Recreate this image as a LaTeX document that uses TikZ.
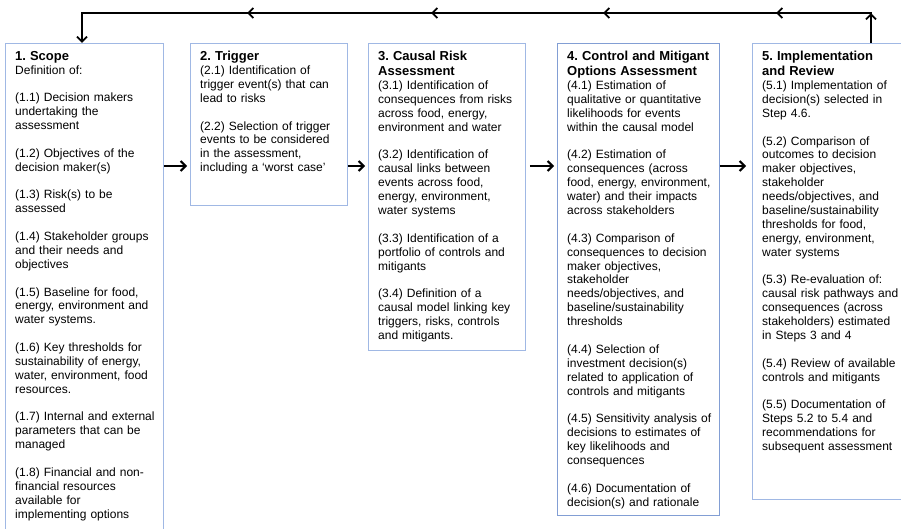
\documentclass[tikz,border=0pt]{standalone}
\usepackage{fontspec}
\setmainfont{Liberation Sans}
\usetikzlibrary{arrows.meta,decorations.markings}
\setlength{\parindent}{0pt}
\frenchspacing

\definecolor{frameblue}{RGB}{160,184,228}
\definecolor{framedeep}{RGB}{130,158,212}

\newcommand{\steptitle}[1]{{\fontsize{13}{15}\selectfont\bfseries #1\par}}
\newcommand{\itemgap}{\\[13.8pt]}

\tikzset{flowtip/.tip={Straight Barb[length=5pt,width=10pt]}}

\begin{document}
\begin{tikzpicture}[x=1pt, y=-1pt,
    frame/.style={draw=frameblue, line width=0.9pt, inner sep=0pt, anchor=north west},
    steptext/.style={anchor=north west, inner xsep=10pt, inner ysep=8pt, align=left,
        font=\fontsize{12}{13.9}\selectfont},
    flow/.style={line width=2pt, -flowtip, shorten >=3pt},
    feedback/.style={line width=1.8pt}]
    \useasboundingbox (0,0) rectangle (901,529);

    % the frames of the five steps
    \node[frame, minimum width=158pt, minimum height=500pt] (scope) at (5,43) {};
    \node[frame, minimum width=157pt, minimum height=162pt] (trigger) at (190,43) {};
    \node[frame, minimum width=157pt, minimum height=307pt] (causal) at (368,43) {};
    \node[frame, draw=framedeep, minimum width=162pt, minimum height=472pt] (control) at (557,43) {};
    \node[frame, minimum width=160pt, minimum height=456pt] (review) at (752,43) {};

    % Step 1 -> Scope
    \node[steptext, text width=146pt] (scopetext) at (scope.north west) {%
        \steptitle{1. Scope}
        Definition of:\itemgap
        (1.1) Decision makers\\ undertaking the\\ assessment\itemgap
        (1.2) Objectives of the\\ decision maker(s)\itemgap
        (1.3) Risk(s) to be\\ assessed\itemgap
        (1.4) Stakeholder groups\\ and their needs and\\ objectives\itemgap
        (1.5) Baseline for food,\\ energy, environment and\\ water systems.\itemgap
        (1.6) Key thresholds for\\ sustainability of energy,\\ water, environment, food\\ resources.\itemgap
        (1.7) Internal and external\\ parameters that can be\\ managed\itemgap
        (1.8) Financial and non-\\ financial resources\\ available for\\ implementing options};

    % Step 2 -> Trigger
    \node[steptext, text width=145pt] (triggertext) at (trigger.north west) {%
        \steptitle{2. Trigger}
        (2.1) Identification of\\ trigger event(s) that can\\ lead to risks\itemgap
        (2.2) Selection of trigger\\ events to be considered\\ in the assessment,\\ including a ‘worst case’};

    % Step 3 -> Causal risk assessment
    \node[steptext, text width=145pt] (causaltext) at (causal.north west) {%
        \steptitle{3. Causal Risk\\ Assessment}
        (3.1) Identification of\\ consequences from risks\\ across food, energy,\\ environment and water\itemgap
        (3.2) Identification of\\ causal links between\\ events across food,\\ energy, environment,\\ water systems\itemgap
        (3.3) Identification of a\\ portfolio of controls and\\ mitigants\itemgap
        (3.4) Definition of a\\ causal model linking key\\ triggers, risks, controls\\ and mitigants.};

    % Step 4 -> Control and mitigant options
    \node[steptext, text width=152pt] (controltext) at (control.north west) {%
        \steptitle{4. Control and Mitigant\\ Options Assessment}
        (4.1) Estimation of\\ qualitative or quantitative\\ likelihoods for events\\ within the causal model\itemgap
        (4.2) Estimation of\\ consequences (across\\ food, energy, environment,\\ water) and their impacts\\ across stakeholders\itemgap
        (4.3) Comparison of\\ consequences to decision\\ maker objectives,\\ stakeholder\\ needs/objectives, and\\ baseline/sustainability\\ thresholds\itemgap
        (4.4) Selection of\\ investment decision(s)\\ related to application of\\ controls and mitigants\itemgap
        (4.5) Sensitivity analysis of\\ decisions to estimates of\\ key likelihoods and\\ consequences\itemgap
        (4.6) Documentation of\\ decision(s) and rationale};

    % Step 5 -> Implementation and review
    \node[steptext, text width=150pt] (reviewtext) at (review.north west) {%
        \steptitle{5. Implementation\\ and Review}
        (5.1) Implementation of\\ decision(s) selected in\\ Step 4.6.\itemgap
        (5.2) Comparison of\\ outcomes to decision\\ maker objectives,\\ stakeholder\\ needs/objectives, and\\ baseline/sustainability\\ thresholds for food,\\ energy, environment,\\ water systems\itemgap
        (5.3) Re-evaluation of:\\ causal risk pathways and\\ consequences (across\\ stakeholders) estimated\\ in Steps 3 and 4\itemgap
        (5.4) Review of available\\ controls and mitigants\itemgap
        (5.5) Documentation of\\ Steps 5.2 to 5.4 and\\ recommendations for\\ subsequent assessment};

    % arrows from step to step
    \coordinate (flowrow) at (0,166);
    \draw[flow] (scope.east |- flowrow) -- (trigger.west |- flowrow);
    \draw[flow] (trigger.east |- flowrow) -- (causal.west |- flowrow);
    \draw[flow, shorten <=4pt] (causal.east |- flowrow) -- (control.west |- flowrow);
    \draw[flow, shorten >=6pt] (control.east |- flowrow) -- (review.west |- flowrow);

    % feedback loop from review back to scope
    \coordinate (fbright) at (871,13);
    \coordinate (fbleft) at (82,13);
    \draw[feedback, -flowtip, postaction={decorate}, decoration={markings,
            mark=at position 29.9pt with {\arrow{flowtip}},
            mark=at position 125pt with {\arrow{flowtip}},
            mark=at position 298pt with {\arrow{flowtip}},
            mark=at position 470pt with {\arrow{flowtip}},
            mark=at position 654pt with {\arrow{flowtip}}}]
        (review.north -| fbright) -- (fbright) -- (fbleft) -- (scope.north -| fbleft);
\end{tikzpicture}
\end{document}
